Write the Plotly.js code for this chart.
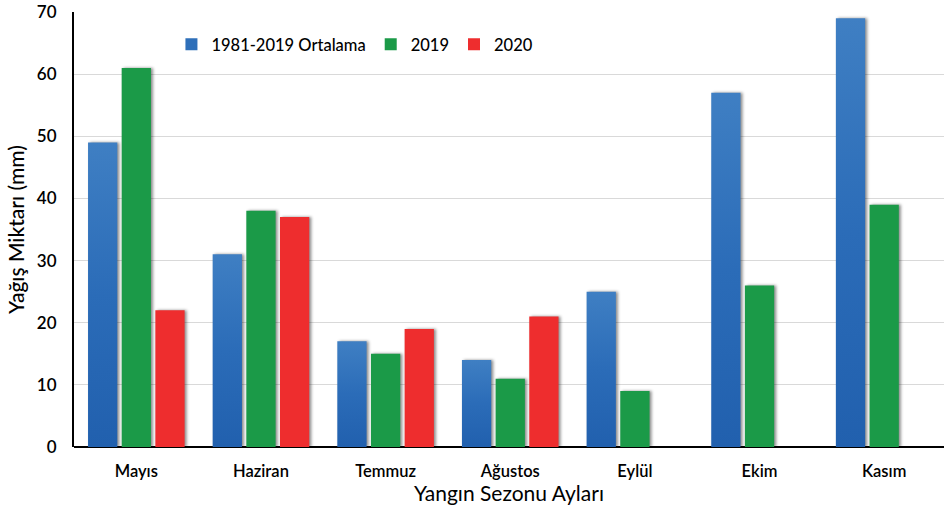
<!DOCTYPE html>
<html>
<head>
<meta charset="utf-8">
<script src="https://cdn.plot.ly/plotly-3.0.1.min.js"></script>
<style>
  html, body { margin: 0; padding: 0; background: #fff; }
  #chart { width: 944px; height: 507px; }
  /* soft shadow on the right side of every bar */
  .barlayer .point path { filter: drop-shadow(2px 0px 1.5px rgba(0,0,0,0.45)); }
</style>
</head>
<body>
<div id="chart"></div>
<script>
// Fire-season months and monthly rainfall (mm)
const months = ["Mayıs", "Haziran", "Temmuz", "Ağustos", "Eylül", "Ekim", "Kasım"];
const avg1981_2019 = [49, 31, 17, 14, 25, 57, 69];
const y2019 = [61, 38, 15, 11, 9, 26, 39];
const y2020 = [22, 37, 19, 21, null, null, null];
const seriesNames = ["1981-2019 Ortalama", "2019", "2020"];
const yTicks = [0, 10, 20, 30, 40, 50, 60, 70];

const FONT = 'Lato, "Open Sans", "DejaVu Sans", sans-serif';
const colors = ["#2e6fb9", "#1b9a48", "#ee2d2e"];

const traces = [avg1981_2019, y2019, y2020].map((vals, i) => ({
  type: "bar",
  name: seriesNames[i],
  x: months,
  y: vals,
  marker: { color: colors[i], line: { width: 0 } },
  hoverinfo: "x+y+name"
}));

const layout = {
  width: 944,
  height: 507,
  margin: { l: 74, r: 0, t: 12, b: 60 },
  paper_bgcolor: "#fff",
  plot_bgcolor: "#fff",
  font: { family: FONT, color: "#000" },
  barmode: "group",
  bargap: 0.19,
  bargroupgap: 0.13,
  showlegend: true,
  legend: {
    orientation: "h",
    x: 0.112, xanchor: "left",
    y: 0.925, yanchor: "middle",
    font: { family: FONT, size: 16.5, weight: 500, color: "#000" },
    bgcolor: "rgba(0,0,0,0)",
    traceorder: "normal"
  },
  xaxis: {
    type: "category",
    range: [-0.5, 6.48],
    showgrid: false,
    showline: false,
    zeroline: false,
    ticks: "",
    ticklabelstandoff: 12,
    tickfont: { family: FONT, size: 16.5, weight: 600, color: "#000" },
    title: { text: "Yangın Sezonu Ayları", font: { family: FONT, size: 21, color: "#000" }, standoff: 4 },
    automargin: false
  },
  yaxis: {
    range: [0, 70],
    tickvals: yTicks,
    ticktext: yTicks.map(String),
    showgrid: true,
    gridcolor: "#d9d9d9",
    gridwidth: 1,
    showline: true,
    linecolor: "#000",
    linewidth: 2,
    zeroline: true,
    zerolinecolor: "#000",
    zerolinewidth: 2,
    ticks: "",
    ticklabelstandoff: 12,
    tickfont: { family: FONT, size: 17, weight: 600, color: "#000" },
    title: { text: "Yağış Miktarı (mm)", font: { family: FONT, size: 21, weight: 500, color: "#000" }, standoff: 7 },
    automargin: false
  }
};

Plotly.newPlot("chart", traces, layout, { displayModeBar: false, staticPlot: true }).then(gd => {
  // vertical light-to-dark gradient for the long-term average bars
  const svg = gd.querySelector(".main-svg");
  const ns = "http://www.w3.org/2000/svg";
  const defs = document.createElementNS(ns, "defs");
  const grad = document.createElementNS(ns, "linearGradient");
  grad.setAttribute("id", "avgGrad");
  grad.setAttribute("x1", "0"); grad.setAttribute("y1", "0");
  grad.setAttribute("x2", "0"); grad.setAttribute("y2", "1");
  [["0", "#3f7fc3"], ["0.5", "#2b6cb8"], ["1", "#2160ae"]].forEach(([o, c]) => {
    const s = document.createElementNS(ns, "stop");
    s.setAttribute("offset", o);
    s.setAttribute("stop-color", c);
    grad.appendChild(s);
  });
  defs.appendChild(grad);
  svg.insertBefore(defs, svg.firstChild);
  const firstTrace = gd.querySelectorAll(".barlayer .trace")[0];
  if (firstTrace) {
    firstTrace.querySelectorAll(".point path").forEach(p => { p.style.fill = "url(#avgGrad)"; });
  }
});
</script>
</body>
</html>
